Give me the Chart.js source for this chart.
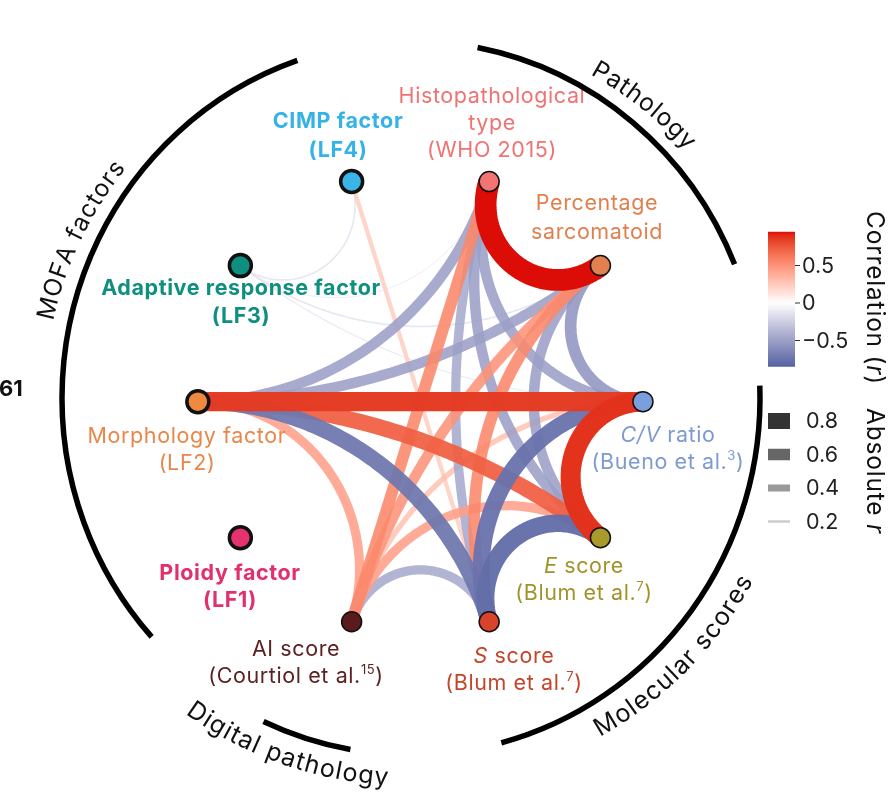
<!DOCTYPE html>
<html><head><meta charset="utf-8">
<script src="https://cdn.jsdelivr.net/npm/chart.js@4.4.0/dist/chart.umd.min.js"></script>
<style>html,body{margin:0;padding:0;background:#fff;}canvas{display:block;}</style>
</head><body>
<canvas id="c" width="894" height="811"></canvas>
<script>
// ---------------- DATA ----------------
const nodeNames = ['C/V ratio','Percentage sarcomatoid','Histopathological type','CIMP factor (LF4)','Adaptive response factor (LF3)','Morphology factor (LF2)','Ploidy factor (LF1)','AI score','S score','E score'];
const nodeAngles = [0,36,72,108,144,180,216,252,288,324];
// node index: 0 C/V, 1 Sarc, 2 Histo, 3 LF4, 4 LF3, 5 LF2, 6 LF1, 7 AI, 8 S, 9 E
const edgeSource = [2,0,5,5,5,0,9,5,5,5,2,2,2,2,1,1,1,1,7,7,7,3,3,4,4,4];
const edgeTarget = [1,9,0,9,8,8,8,7,2,1,0,9,8,7,0,9,8,7,8,0,9,8,4,1,0,2];
const edgeCorr   = [0.95,0.88,0.85,0.72,-0.72,-0.75,-0.78,0.45,-0.5,-0.5,-0.5,-0.5,-0.45,0.55,-0.55,-0.5,0.55,0.5,-0.45,0.3,0.45,0.25,-0.15,-0.15,-0.13,-0.12];
const colorTicks = [0.5, 0, -0.5];
const colorLimits = [-0.85, 0.95];
const widthTicks = [0.8, 0.6, 0.4, 0.2];

// ---------------- STYLE ----------------
const nodeColors = ['#7b9fdc','#e3804f','#f47373','#3ab5e8','#0e8f7f','#ef893f','#e6336e','#5b1b1d','#d8432a','#a99a2c'];
const nodeBorder = [1.5,1.5,1.5,3.5,3.5,3.5,3.5,1.5,1.5,1.5];
const nodeRadius = [10,10,10,11,11,11,11,10,10,10];
const HIGH = '#dc0c06', MID = '#ffffff', LOW = '#3f5296';
const FONT = 'Inter, Roboto, sans-serif';

// pixel mapping of the unit circle: centre (419.5,401.5), rx 230, ry 240
const W = 894, H = 811, CX = 419.5, CY = 401.5, RX = 230, RY = 240;
const XMIN = -CX / RX, XMAX = (W - CX) / RX, YMAX = CY / RY, YMIN = -(H - CY) / RY;

// ---------------- COLOUR (Lab interpolation like ggplot gradient2) ----------------
function hex2rgb(h){h=h.replace('#','');return [0,2,4].map(i=>parseInt(h.substr(i,2),16));}
function lin(c){c/=255;return c<=0.04045?c/12.92:Math.pow((c+0.055)/1.055,2.4);}
function delin(c){c=c<=0.0031308?12.92*c:1.055*Math.pow(c,1/2.4)-0.055;return Math.max(0,Math.min(255,Math.round(c*255)));}
function rgb2lab(rgb){const [R,G,B]=rgb.map(lin);
  let X=(0.4124*R+0.3576*G+0.1805*B)/0.95047,Y=(0.2126*R+0.7152*G+0.0722*B),Z=(0.0193*R+0.1192*G+0.9505*B)/1.08883;
  const f=t=>t>0.008856?Math.cbrt(t):7.787*t+16/116;const fx=f(X),fy=f(Y),fz=f(Z);
  return [116*fy-16,500*(fx-fy),200*(fy-fz)];}
function lab2rgb(lab){const [L,a,b]=lab;const fy=(L+16)/116,fx=fy+a/500,fz=fy-b/200;
  const finv=t=>t*t*t>0.008856?t*t*t:(t-16/116)/7.787;
  const X=finv(fx)*0.95047,Y=finv(fy),Z=finv(fz)*1.08883;
  const R=3.2406*X-1.5372*Y-0.4986*Z,G=-0.9689*X+1.8758*Y+0.0415*Z,B=0.0557*X-0.2040*Y+1.0570*Z;
  return [delin(R),delin(G),delin(B)];}
const labH=rgb2lab(hex2rgb(HIGH)),labM=rgb2lab(hex2rgb(MID)),labL=rgb2lab(hex2rgb(LOW));
const maxAbs=Math.max(Math.abs(colorLimits[0]),Math.abs(colorLimits[1]));
function corrRGB(r){let t=Math.max(-1,Math.min(1,r/maxAbs));const e=t>=0?labH:labL;t=Math.abs(t);
  return lab2rgb([0,1,2].map(i=>labM[i]+(e[i]-labM[i])*t));}
function widthFor(a){return Math.max(0.6,25*a-2);}
function alphaFor(a){return Math.min(1,0.72+0.3*a/maxAbs);}

// ---------------- EDGE GEOMETRY (arcs orthogonal to the node circle) ----------------
function edgePoints(a1,a2){
  const p0=[Math.cos(a1),Math.sin(a1)],p1=[Math.cos(a2),Math.sin(a2)];
  let d=Math.abs(a2-a1)%(2*Math.PI); if(d>Math.PI)d=2*Math.PI-d;
  const pts=[];const N=90;
  if(Math.abs(Math.PI-d)<0.02){for(let i=0;i<=N;i++){const t=i/N;pts.push([p0[0]+(p1[0]-p0[0])*t,p0[1]+(p1[1]-p0[1])*t]);}return pts;}
  let mx=p0[0]+p1[0],my=p0[1]+p1[1];const ml=Math.hypot(mx,my);mx/=ml;my/=ml;
  const dist=1/Math.cos(d/2),rad=Math.tan(d/2);const ox=mx*dist,oy=my*dist;
  let f0=Math.atan2(p0[1]-oy,p0[0]-ox),f1=Math.atan2(p1[1]-oy,p1[0]-ox);
  let df=f1-f0; while(df>Math.PI)df-=2*Math.PI; while(df<-Math.PI)df+=2*Math.PI;
  for(let i=0;i<=N;i++){const f=f0+df*i/N;pts.push([ox+rad*Math.cos(f),oy+rad*Math.sin(f)]);}
  return pts;}

const edgePlugin={id:'edges',beforeDatasetsDraw(chart){
  const ctx=chart.ctx,xs=chart.scales.x,ys=chart.scales.y;
  const order=edgeCorr.map((r,i)=>i).sort((a,b)=>Math.abs(edgeCorr[a])-Math.abs(edgeCorr[b]));
  ctx.save();ctx.lineCap='butt';ctx.lineJoin='round';
  order.forEach(i=>{
    const r=edgeCorr[i],a1=nodeAngles[edgeSource[i]]*Math.PI/180,a2=nodeAngles[edgeTarget[i]]*Math.PI/180;
    const pts=edgePoints(a1,a2);const c=corrRGB(r);
    ctx.strokeStyle=`rgba(${c[0]},${c[1]},${c[2]},${alphaFor(Math.abs(r))})`;ctx.lineWidth=widthFor(Math.abs(r));
    ctx.beginPath();pts.forEach((p,k)=>{const X=xs.getPixelForValue(p[0]),Y=ys.getPixelForValue(p[1]);k?ctx.lineTo(X,Y):ctx.moveTo(X,Y);});
    ctx.stroke();});
  ctx.restore();}};

// ---------------- TEXT HELPERS ----------------
function segFont(s,size,weight){return `${s.it?'italic ':''}${weight} ${s.sup?Math.round(size*0.6):size}px ${FONT}`;}
function drawRich(ctx,segs,cx,by,size,weight,color,sp){
  ctx.save();ctx.fillStyle=color;ctx.textBaseline='alphabetic';ctx.textAlign='left';ctx.letterSpacing=sp+'px';
  let tw=0;segs.forEach(s=>{ctx.font=segFont(s,size,weight);s.w=ctx.measureText(s.t).width;tw+=s.w;});
  let x=cx-tw/2;segs.forEach(s=>{ctx.font=segFont(s,size,weight);ctx.fillText(s.t,x,s.sup?by-size*0.42:by);x+=s.w;});
  ctx.restore();}
function arcText(ctx,text,cx,cy,r,midDeg,flip,size,sp){
  ctx.save();ctx.font=`400 ${size}px ${FONT}`;ctx.fillStyle='#111';ctx.textAlign='center';ctx.textBaseline='alphabetic';
  const ws=[...text].map(ch=>ctx.measureText(ch).width+sp);const tot=ws.reduce((a,b)=>a+b,0);
  const mid=midDeg*Math.PI/180;let acc=0;
  [...text].forEach((ch,i)=>{const off=(acc+ws[i]/2-tot/2)/r;const th=flip?mid-off:mid+off;
    ctx.save();ctx.translate(cx+r*Math.cos(th),cy+r*Math.sin(th));ctx.rotate(flip?th-Math.PI/2:th+Math.PI/2);
    ctx.fillText(ch,0,0);ctx.restore();acc+=ws[i];});
  ctx.restore();}

const labels=[
  {lines:[[{t:'Histopathological'}],[{t:'type'}],[{t:'(WHO 2015)'}]],x:492,y:[103,130,157],w:400,s:21.5,c:'#f07272'},
  {lines:[[{t:'CIMP factor'}],[{t:'(LF4)'}]],x:338,y:[128,157],w:700,s:21.5,c:'#36b3e6'},
  {lines:[[{t:'Adaptive response factor'}],[{t:'(LF3)'}]],x:241,y:[295,323],w:700,s:21.5,c:'#0e8f7f'},
  {lines:[[{t:'Morphology factor'}],[{t:'(LF2)'}]],x:187,y:[443,470],w:400,s:21.5,c:'#e8874a'},
  {lines:[[{t:'Ploidy factor'}],[{t:'(LF1)'}]],x:230,y:[580,607],w:700,s:21.5,c:'#e2306d'},
  {lines:[[{t:'AI score'}],[{t:'(Courtiol et al.'},{t:'15',sup:true},{t:')'}]],x:296,y:[656,683],w:400,s:21.5,c:'#5c2222'},
  {lines:[[{t:'S',it:true},{t:' score'}],[{t:'(Blum et al.'},{t:'7',sup:true},{t:')'}]],x:514,y:[663,690],w:400,s:21.5,c:'#c2452c'},
  {lines:[[{t:'E',it:true},{t:' score'}],[{t:'(Blum et al.'},{t:'7',sup:true},{t:')'}]],x:584,y:[573,600],w:400,s:21.5,c:'#a0932a'},
  {lines:[[{t:'C/V',it:true},{t:' ratio'}],[{t:'(Bueno et al.'},{t:'3',sup:true},{t:')'}]],x:668,y:[442,469],w:400,s:21.5,c:'#7d9bd1'},
  {lines:[[{t:'Percentage'}],[{t:'sarcomatoid'}]],x:597,y:[210,239],w:400,s:21.5,c:'#e0804f'}
];

const decorPlugin={id:'decor',afterDatasetsDraw(chart){
  const ctx=chart.ctx;
  labels.forEach(L=>L.lines.forEach((segs,i)=>drawRich(ctx,segs.map(s=>Object.assign({},s)),L.x,L.y[i],L.s,L.w,L.c,0.6)));
  // group arcs
  const gx=411,gy=398,grx=349,gry=357;
  const groups=[[138,251],[-79,-22],[-2,75],[100,115]];
  ctx.save();ctx.strokeStyle='#000';ctx.lineWidth=5.5;ctx.lineCap='butt';
  groups.forEach(g=>{ctx.beginPath();ctx.ellipse(gx,gy,grx,gry,0,g[0]*Math.PI/180,g[1]*Math.PI/180);ctx.stroke();});
  ctx.restore();
  arcText(ctx,'MOFA factors',gx,gy,366,205.5,false,24.5,0.9);
  arcText(ctx,'Pathology',gx,gy,370,-51.5,false,24.5,0.9);
  arcText(ctx,'Molecular scores',gx,gy,388,44.5,true,25,1.2);
  arcText(ctx,'Digital pathology',gx,gy,388,109.5,true,25,1.2);
  // "61" fragment
  ctx.save();ctx.font=`700 22px ${FONT}`;ctx.fillStyle='#111';ctx.textAlign='left';ctx.fillText('61',-1,396);ctx.restore();
  // colour bar
  const bx=768,bw=27,y0=303,ppu=75;
  const yOf=v=>y0-v*ppu;
  const top=yOf(colorLimits[1]),bot=yOf(colorLimits[0]);
  const grad=ctx.createLinearGradient(0,top,0,bot);
  for(let k=0;k<=40;k++){const v=colorLimits[1]-(colorLimits[1]-colorLimits[0])*k/40;const c=corrRGB(v);grad.addColorStop(k/40,`rgb(${c[0]},${c[1]},${c[2]})`);}
  ctx.fillStyle=grad;ctx.fillRect(bx,top,bw,bot-top);
  ctx.save();ctx.strokeStyle='#333';ctx.lineWidth=1;ctx.fillStyle='#222';ctx.font=`400 21.5px ${FONT}`;ctx.textBaseline='middle';ctx.textAlign='left';
  colorTicks.forEach(v=>{const y=yOf(v);ctx.beginPath();ctx.moveTo(bx+bw,y);ctx.lineTo(bx+bw+5,y);ctx.stroke();
    ctx.fillText(v<0?'\u2212'+Math.abs(v):String(v),bx+bw+7,y+1);});
  // width legend
  widthTicks.forEach((v,i)=>{const y=421+i*33.5;const h=Math.max(2.5,22.5*v-2);ctx.fillStyle=`rgba(0,0,0,${v})`;ctx.fillRect(bx,y-h/2,22,h);
    ctx.fillStyle='#222';ctx.fillText(v.toFixed(1),806,y+1);});
  ctx.restore();
  // legend titles (rotated)
  ctx.save();ctx.fillStyle='#111';ctx.translate(867,211);ctx.rotate(Math.PI/2);ctx.textBaseline='alphabetic';ctx.textAlign='left';ctx.letterSpacing='0.8px';
  ctx.font=`400 24.5px ${FONT}`;ctx.fillText('Correlation (',0,0);let w1=ctx.measureText('Correlation (').width;
  ctx.font=`italic 400 24.5px ${FONT}`;ctx.fillText('r',w1,0);w1+=ctx.measureText('r').width;ctx.font=`400 24.5px ${FONT}`;ctx.fillText(')',w1,0);
  ctx.restore();
  ctx.save();ctx.fillStyle='#111';ctx.translate(867,408);ctx.rotate(Math.PI/2);ctx.textAlign='left';ctx.letterSpacing='0.8px';
  ctx.font=`400 24.5px ${FONT}`;ctx.fillText('Absolute ',0,0);const w2=ctx.measureText('Absolute ').width;
  ctx.font=`italic 400 24.5px ${FONT}`;ctx.fillText('r',w2,0);ctx.restore();
}};

new Chart(document.getElementById('c'),{
  type:'scatter',
  data:{datasets:[{label:'nodes',
    data:nodeAngles.map(a=>({x:Math.cos(a*Math.PI/180),y:Math.sin(a*Math.PI/180)})),
    pointRadius:nodeRadius,pointHoverRadius:nodeRadius,pointBackgroundColor:nodeColors,pointBorderColor:'#111',pointBorderWidth:nodeBorder,showLine:false}]},
  options:{responsive:false,animation:false,events:[],devicePixelRatio:1,layout:{padding:0},
    scales:{x:{type:'linear',display:false,min:XMIN,max:XMAX},y:{type:'linear',display:false,min:YMIN,max:YMAX}},
    plugins:{legend:{display:false},tooltip:{enabled:false}}},
  plugins:[edgePlugin,decorPlugin]
});
</script>
</body></html>
